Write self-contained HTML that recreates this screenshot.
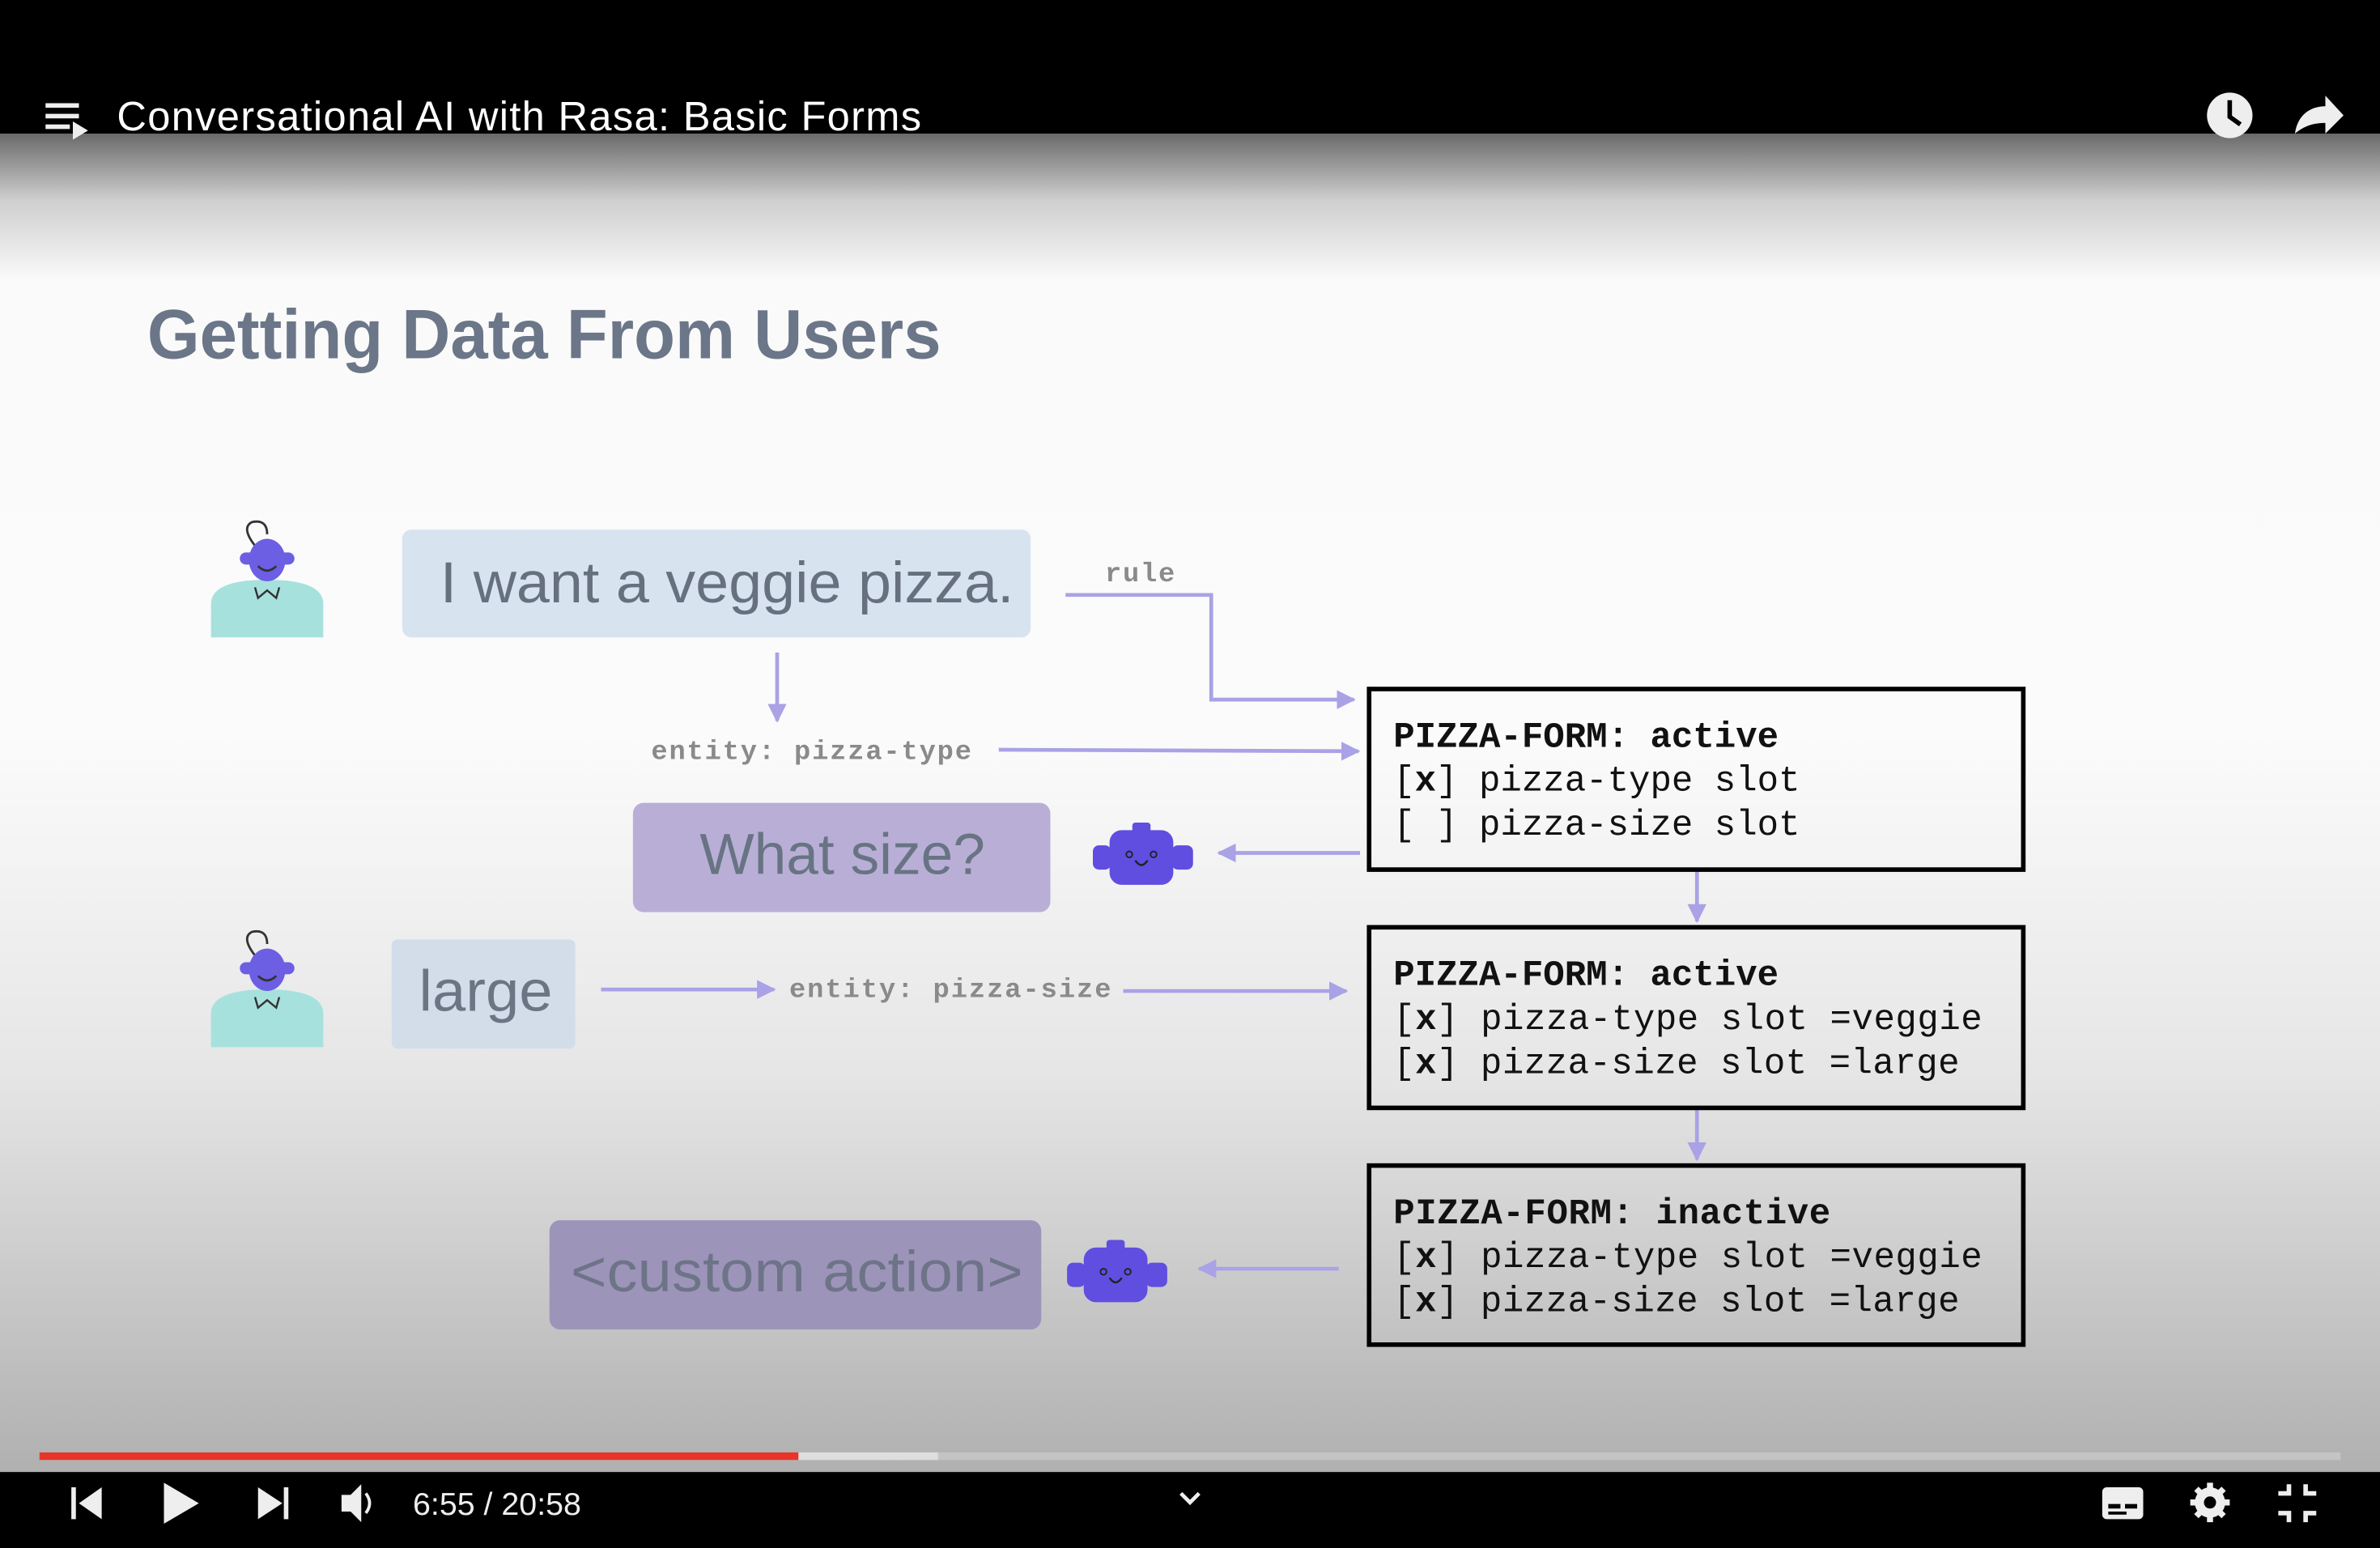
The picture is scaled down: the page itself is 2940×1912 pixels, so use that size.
<!DOCTYPE html>
<html><head><meta charset="utf-8"><style>
html,body{margin:0;padding:0;background:#000;}
svg{display:block;}
</style></head><body>
<svg width="2940" height="1912" viewBox="0 0 1568 1020" preserveAspectRatio="none" xmlns="http://www.w3.org/2000/svg">
<defs>
<linearGradient id="bg" x1="0" y1="0" x2="0" y2="1">
<stop offset="0" stop-color="#6a6a6a"/>
<stop offset="0.05" stop-color="#cfcfcf"/>
<stop offset="0.11" stop-color="#fafafa"/>
<stop offset="0.45" stop-color="#fbfbfb"/>
<stop offset="0.7" stop-color="#e6e6e6"/>
<stop offset="1" stop-color="#b0b0b0"/>
</linearGradient>
<marker id="ah" viewBox="0 0 10 10" refX="9" refY="5" markerWidth="5" markerHeight="5" orient="auto-start-reverse">
<path d="M0,0 L10,5 L0,10 z" fill="#a9a2e6"/>
</marker>
</defs>
<rect x="0" y="88" width="1568" height="882" fill="url(#bg)"/>
<rect x="0" y="0" width="1568" height="88" fill="#000"/>
<g fill="#eee"><rect x="30" y="68" width="22" height="3"/><rect x="30" y="75" width="22" height="3"/><rect x="30" y="82" width="16" height="3"/><path d="M48,80 L58,86 L48,92z"/></g>
<text x="77" y="86" font-family="Liberation Sans, sans-serif" font-size="27" fill="#fff" textLength="530">Conversational AI with Rasa: Basic Forms</text>
<circle cx="1469" cy="76" r="15" fill="#eee"/><path d="M1469,66 V77 L1476,82" stroke="#000" stroke-width="3" fill="none"/>
<path d="M1512,88 C1514,74 1524,70 1532,70 V63 L1544,76 L1532,88 V81 C1524,81 1518,83 1512,88z" fill="#eee"/>
<text x="97" y="236" font-family="Liberation Sans, sans-serif" font-weight="bold" font-size="46" fill="#6b7688" textLength="523" lengthAdjust="spacingAndGlyphs">Getting Data From Users</text>
<g id="u1">
<path d="M139,420 V398 Q139,382 176,382 Q213,382 213,398 V420z" fill="#a7e1dd"/>
<path d="M170,362 Q158,348 166,344 Q176,342 176,352" stroke="#333" stroke-width="1.5" fill="none"/>
<ellipse cx="176" cy="369" rx="12" ry="14" fill="#6c5fe3"/>
<rect x="158" y="364" width="36" height="8" rx="4" fill="#6c5fe3"/>
<path d="M170,373 Q176,379 182,373" stroke="#333" stroke-width="1.5" fill="none"/>
<path d="M168,387 L170,394 L176,389 L182,394 L184,387" stroke="#333" stroke-width="1.3" fill="none"/>
</g>
<use href="#u1" transform="translate(0,270)"/>
<rect x="265" y="349" width="414" height="71" rx="6" fill="#d8e3f0"/>
<text x="290" y="397" font-family="Liberation Sans, sans-serif" font-size="38" fill="#67707f" textLength="378" lengthAdjust="spacingAndGlyphs">I want a veggie pizza.</text>
<rect x="417" y="529" width="275" height="72" rx="7" fill="#b9afd6"/>
<text x="461" y="576" font-family="Liberation Sans, sans-serif" font-size="38" fill="#687484" textLength="188" lengthAdjust="spacingAndGlyphs">What size?</text>
<rect x="258" y="619" width="121" height="72" rx="4" fill="#d2dde9"/>
<text x="276" y="666" font-family="Liberation Sans, sans-serif" font-size="38" fill="#6b7583" textLength="88" lengthAdjust="spacingAndGlyphs">large</text>
<rect x="362" y="804" width="324" height="72" rx="7" fill="#9d94ba"/>
<text x="376" y="851" font-family="Liberation Sans, sans-serif" font-size="38" fill="#6e7488" textLength="298" lengthAdjust="spacingAndGlyphs">&lt;custom action&gt;</text>
<g id="b1">
<rect x="731" y="547" width="42" height="36" rx="8" fill="#5f4ee0"/>
<rect x="746" y="542" width="12" height="8" rx="2" fill="#5f4ee0"/>
<rect x="720" y="557" width="12" height="16" rx="4" fill="#5f4ee0"/>
<rect x="772" y="557" width="14" height="16" rx="4" fill="#5f4ee0"/>
<circle cx="744" cy="563" r="2" fill="none" stroke="#222" stroke-width="1"/>
<circle cx="760" cy="563" r="2" fill="none" stroke="#222" stroke-width="1"/>
<path d="M748,567 Q752,573 756,567" stroke="#222" stroke-width="1.3" fill="none"/>
</g>
<use href="#b1" transform="translate(-17,275)"/>
<g stroke="#a9a2e6" stroke-width="2.5" fill="none" marker-end="url(#ah)">
<path d="M702,392 H798 V461 H892"/>
<path d="M512,430 V475"/>
<path d="M658,494 L895,495"/>
<path d="M896,562 H803"/>
<path d="M1118,574 V607"/>
<path d="M396,652 H510"/>
<path d="M740,653 H887"/>
<path d="M1118,731 V764"/>
<path d="M882,836 H790"/>
</g>
<g font-family="Liberation Mono, monospace" font-size="18" fill="#8a8a8a" font-weight="bold">
<text x="728" y="383" textLength="46">rule</text>
<text x="429" y="500" textLength="211">entity: pizza-type</text>
<text x="520" y="657" textLength="212">entity: pizza-size</text>
</g>
<g stroke="#000" stroke-width="3" fill="none">
<rect x="902" y="454" width="431" height="119"/>
<rect x="902" y="611" width="431" height="119"/>
<rect x="902" y="768" width="431" height="118"/>
</g>
<g font-family="Liberation Mono, monospace" font-size="23.5" fill="#111">
<text x="918" y="492" font-weight="bold">PIZZA-FORM: active</text>
<text x="918" y="521">[<tspan font-weight="bold">x</tspan>] pizza-type slot</text>
<text x="918" y="550">[ ] pizza-size slot</text>
<text x="918" y="649" font-weight="bold">PIZZA-FORM: active</text>
<text x="918" y="678" textLength="388">[<tspan font-weight="bold">x</tspan>] pizza-type slot =veggie</text>
<text x="918" y="707" textLength="373">[<tspan font-weight="bold">x</tspan>] pizza-size slot =large</text>
<text x="918" y="806" font-weight="bold" textLength="288">PIZZA-FORM: inactive</text>
<text x="918" y="835" textLength="388">[<tspan font-weight="bold">x</tspan>] pizza-type slot =veggie</text>
<text x="918" y="864" textLength="373">[<tspan font-weight="bold">x</tspan>] pizza-size slot =large</text>
</g>
<rect x="26" y="957" width="1516" height="5" fill="#c4c4c4"/>
<rect x="526" y="957" width="92" height="5" fill="#dedede"/>
<rect x="26" y="957" width="500" height="5" fill="#e8352a"/>
<rect x="0" y="970" width="1568" height="50" fill="#000"/>
<g fill="#eee">
<rect x="47" y="980" width="3" height="21"/><path d="M67,980 V1001 L52,990.5z"/>
<path d="M108,977 L131,990.5 L108,1004z"/>
<path d="M170,980 L186,990.5 L170,1001z"/><rect x="187" y="980" width="3" height="21"/>
<path d="M225,985 H231 L238,978 V1003 L231,996 H225z"/>
<path d="M241,984 Q246,990.5 241,997" stroke="#eee" stroke-width="2" fill="none"/>
<text x="272" y="998" font-family="Liberation Sans, sans-serif" font-size="21" fill="#eee">6:55 / 20:58</text>
<path d="M778,984 L784,990 L790,984" stroke="#eee" stroke-width="2.5" fill="none"/>
<rect x="1385" y="980" width="27" height="21" rx="3"/>
<circle cx="1456" cy="990" r="10"/>
<g stroke="#eee" stroke-width="4"><path d="M1456,977 V1003 M1443,990 H1469 M1447,981 L1465,999 M1465,981 L1447,999"/></g>
<circle cx="1456" cy="990" r="4" fill="#000"/>
<path d="M1501,984 H1508 V978 M1519,978 V984 H1526 M1501,997 H1508 V1003 M1519,1003 V997 H1526" stroke="#eee" stroke-width="3" fill="none"/>
</g>
<g fill="#000"><rect x="1389" y="991" width="8" height="3"/><rect x="1400" y="991" width="8" height="3"/><rect x="1389" y="996" width="12" height="2"/></g>
</svg>
</body></html>
